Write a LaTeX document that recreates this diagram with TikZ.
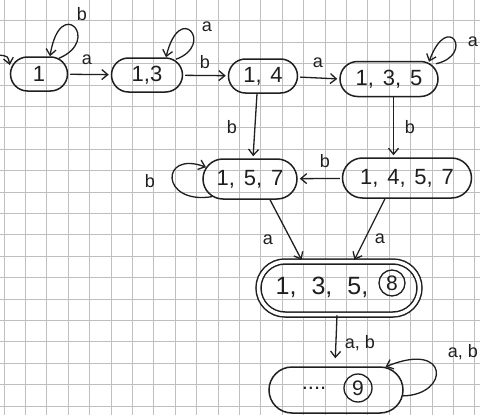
\documentclass[tikz,border=0pt]{standalone}
\usepackage{fontspec}
\setmainfont{Liberation Sans}
\usetikzlibrary{shapes.misc,arrows.meta}
\newcommand\cm{,\hspace{0.4em}}
\newcommand\cmw{,\hspace{0.6em}}
\begin{document}
\begin{tikzpicture}[x=1pt,y=-1pt,
  st/.style={rounded rectangle, draw=black!88, line width=1.5pt, inner sep=0pt,
    font=\fontsize{22}{22}\selectfont, text=black!88},
  edge/.style={draw=black!88, line width=1.3pt,
    -{Straight Barb[length=6pt,width=10pt,line width=1.3pt]}},
  lbl/.style={font=\fontsize{18}{18}\selectfont, text=black!88, inner sep=0pt},
  circ/.style={circle, draw=black!88, line width=1.3pt, inner sep=0pt,
    minimum size=26pt, font=\fontsize{21}{21}\selectfont, text=black!88},
  gridline/.style={black!25, line width=0.7pt}
]
\useasboundingbox (0,0) rectangle (480,415);
\fill[white] (0,0) rectangle (480,415);
\foreach \i in {0,...,22} { \draw[gridline] (4+21.4*\i,0) -- (4+21.4*\i,415); }
\foreach \j in {1,...,19} { \draw[gridline] (0,-0.7+21.4*\j) -- (480,-0.7+21.4*\j); }

% states
\node[st, minimum width=57pt, minimum height=34pt] (n1) at (39,74) {1};
\node[st, minimum width=71pt, minimum height=34pt] (n13) at (147,75) {1,3};
\node[st, minimum width=69pt, minimum height=34pt] (n14) at (263,76) {1\cm 4};
\node[st, minimum width=98pt, minimum height=35pt] (n135) at (389,79) {1\cm 3\cm 5};
\node[st, minimum width=94pt, minimum height=40pt] (n157) at (250,179) {1\cm 5\cm 7};
\node[st, minimum width=129pt, minimum height=40pt] (n1457) at (407,178) {1\cm 4\cm 5\cm 7};
\node[st, minimum width=161pt, minimum height=53pt, double=white, double distance=3.5pt] (n1358) at (339,288) {};
\node[font=\fontsize{25}{25}\selectfont, text=black!88, inner sep=0pt] (t1358) at (322,287) {1\cmw 3\cmw 5\cm};
\node[circ] (c8) at (392,283) {8};
\node[st, minimum width=134pt, minimum height=46pt] (n9) at (336,390) {};
\node[font=\fontsize{22}{22}\selectfont, text=black!88, inner sep=0pt] (dots) at (314,388) {....};
\node[circ, minimum size=28pt] (c9) at (358,388) {9};

% initial arrow
\coordinate (init) at (-2,55);
\draw[edge] (init) .. controls (8,56) .. ([yshift=9pt]n1.west);

% transitions
\draw[edge, shorten >=2pt, shorten <=2pt] (n1) -- (n13);
\node[lbl] at (87,60) {a};
\draw[edge, shorten >=2pt, shorten <=2pt] (n13) -- (n14);
\node[lbl] at (205,62) {b};
\draw[edge, shorten >=2pt, shorten <=2pt] ([yshift=-1pt]n14.east) -- ([yshift=0pt]n135.west);
\node[lbl] at (318,63) {a};
\draw[edge, shorten >=2pt] ([xshift=-6pt]n14.south) -- ([xshift=3pt]n157.north);
\node[lbl] at (232,127) {b};
\draw[edge, shorten >=2pt] ([xshift=4.5pt]n135.south) -- ([xshift=-13.5pt]n1457.north);
\node[lbl] at (410,127) {b};
\draw[edge, shorten >=2pt, shorten <=2pt] (n1457) -- (n157);
\node[lbl] at (325,161) {b};
\draw[edge, shorten >=1pt] ([xshift=20pt]n157.south) -- ([xshift=-37pt]n1358.north);
\node[lbl] at (268,240) {a};
\draw[edge, shorten >=1pt] ([xshift=-22pt]n1457.south) -- ([xshift=15pt]n1358.north);
\node[lbl] at (380,239) {a};
\draw[edge, shorten >=8pt] ([xshift=-2pt]n1358.south) -- ([xshift=-1pt]n9.north);
\node[lbl] at (360,343) {a, b};

% self loops
\draw[edge] ([xshift=20pt,yshift=-2pt]n1.north) .. controls (102,40) and (60,-6) .. ([xshift=11pt]n1.north);
\node[lbl] at (82,14) {b};
\draw[edge] ([xshift=29pt,yshift=-2pt]n13.north) .. controls (215,45) and (180,0) .. ([xshift=19pt]n13.north);
\node[lbl] at (207,27) {a};
\draw[edge] ([xshift=47pt,yshift=-3pt]n135.north) .. controls (475,55) and (448,10) .. ([xshift=40pt,yshift=-1pt]n135.north);
\node[lbl] at (473,42) {a};
\draw[edge] (n157.205) .. controls (160,205) and (160,150) .. (n157.165);
\node[lbl] at (150,181) {b};
\draw[edge] (n9.355) .. controls (450,395) and (450,340) .. (n9.25);
\node[lbl] at (463,352) {a, b};
\end{tikzpicture}
\end{document}
